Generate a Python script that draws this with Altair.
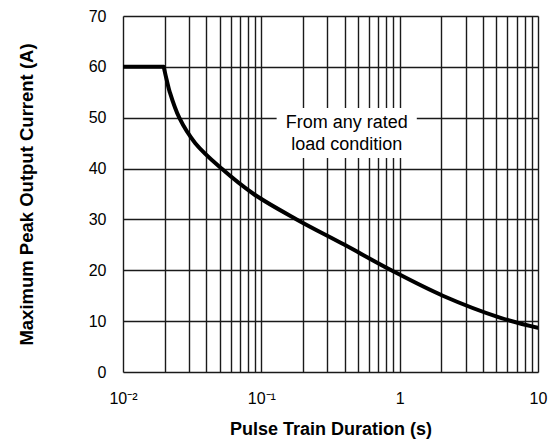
import altair as alt
import pandas as pd

# Flat current-limit section
flat_duration = [0.01, 0.0197]
flat_current = [60, 60]

# Decaying section
duration = [0.0197, 0.0207, 0.0218, 0.0255, 0.0333, 0.0516, 0.088, 0.18, 0.40, 0.87, 2.05, 5.3, 10.0]
current = [60, 57.4, 55, 50, 45, 40, 35, 30, 25, 20, 15, 10.7, 8.7]

# Annotation box (data coordinates) and text lines
note_x = [0.129]
note_x2 = [1.33]
note_y = [42.1]
note_y2 = [51.9]
line_x = [0.414, 0.414]
line_y = [48.9, 44.6]
line_text = ["From any rated", "load condition"]

x_grid = [round(k * 10.0 ** e, 10) for e in (-2, -1, 0) for k in range(1, 10)] + [10.0]
y_grid = list(range(0, 75, 5))

FONT = "Liberation Sans"

flat_df = pd.DataFrame({"t": flat_duration, "i": flat_current})
curve_df = pd.DataFrame({"t": duration, "i": current})
box_df = pd.DataFrame({"x": note_x, "x2": note_x2, "y": note_y, "y2": note_y2})
text_df = pd.DataFrame({"x": line_x, "y": line_y, "txt": line_text})

xscale = alt.Scale(type="log", domain=[0.01, 10], nice=False)
yscale = alt.Scale(domain=[0, 70], nice=False)

x_axis = alt.Axis(
    title="Pulse Train Duration (s)", values=x_grid, ticks=False, domain=False,
    labelExpr="datum.value == 0.01 ? '10⁻²' : datum.value == 0.1 ? '10⁻¹' : datum.value == 1 ? '1' : datum.value == 10 ? '10' : ''",
    labelOverlap=False, labelPadding=18, labelFont=FONT, labelFontSize=16, labelColor="black",
    labelFlush=False,
    grid=True, gridColor="#1a1a1a", gridWidth=1.4, gridOpacity=1,
    titleFont=FONT, titleFontSize=18, titleFontWeight="bold", titleColor="black",
    titlePadding=14,
)
y_axis = alt.Axis(
    title="Maximum Peak Output Current (A)", values=y_grid, ticks=False, domain=False,
    labelExpr="datum.value % 10 == 0 ? datum.label : ''",
    labelOverlap=False, labelPadding=17, labelFont=FONT, labelFontSize=16, labelColor="black",
    labelFlush=False,
    grid=True, gridColor="#1a1a1a", gridWidth=1.4, gridOpacity=1,
    titleFont=FONT, titleFontSize=18.5, titleFontWeight="bold", titleColor="black",
    titleBaseline="middle", titleX=-97, titleY=178,
)

flat = alt.Chart(flat_df).mark_line(color="black", strokeWidth=4, strokeCap="butt").encode(
    x=alt.X("t:Q", scale=xscale, axis=x_axis),
    y=alt.Y("i:Q", scale=yscale, axis=y_axis),
)

curve = alt.Chart(curve_df).mark_line(color="black", strokeWidth=4, interpolate="catmull-rom",
                                      strokeCap="round", clip=True).encode(
    x=alt.X("t:Q", scale=xscale),
    y=alt.Y("i:Q", scale=yscale),
)

box = alt.Chart(box_df).mark_rect(fill="white").encode(
    x=alt.X("x:Q", scale=xscale), x2="x2:Q",
    y=alt.Y("y:Q", scale=yscale), y2="y2:Q",
)

label = alt.Chart(text_df).mark_text(font=FONT, fontSize=18, color="black",
                                     align="center", baseline="middle").encode(
    x=alt.X("x:Q", scale=xscale), y=alt.Y("y:Q", scale=yscale), text="txt:N"
)

chart = alt.layer(flat, curve, box, label).properties(
    width=415, height=356,
    autosize=alt.AutoSizeParams(type="none"),
    padding={"left": 115, "top": 8, "right": 12, "bottom": 72},
).configure_view(stroke="black", strokeWidth=2.5).configure(background="white")

chart.save("out.html", embed_options={"renderer": "svg", "actions": False})
